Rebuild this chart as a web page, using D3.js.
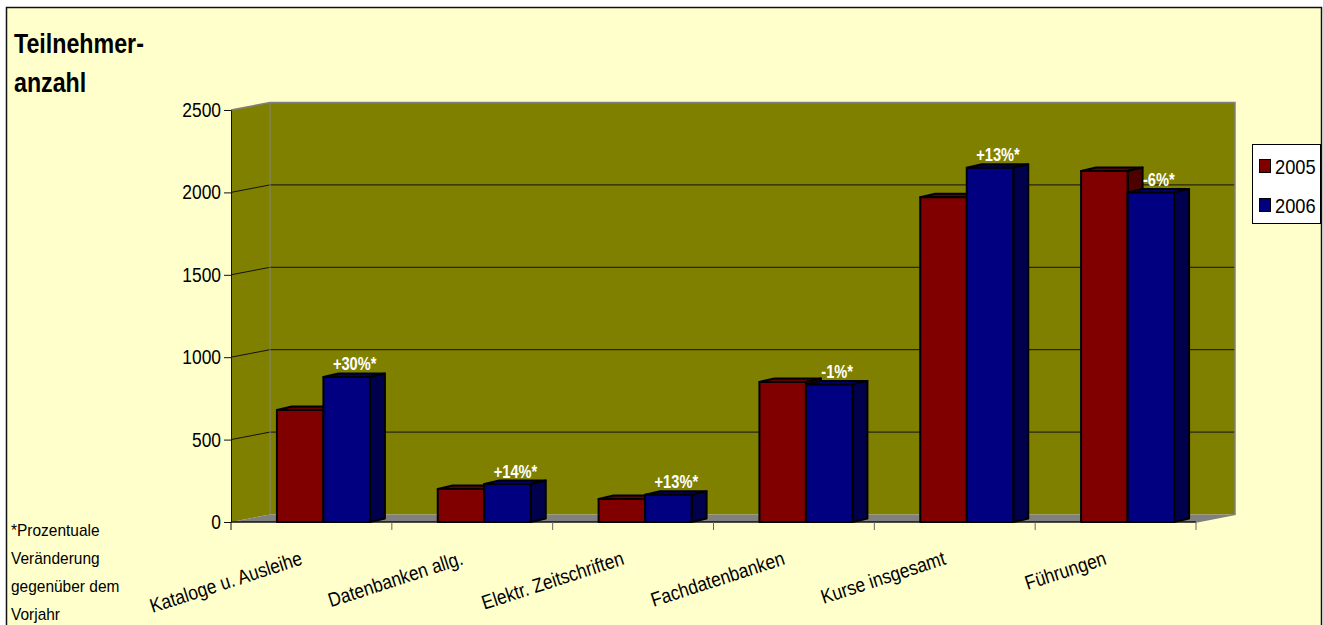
<!DOCTYPE html>
<html>
<head>
<meta charset="utf-8">
<style>
  html,body { margin:0; padding:0; background:#fff; overflow:hidden; }
  text { font-family: "Liberation Sans", Arial, sans-serif; }
</style>
<script src="https://cdn.jsdelivr.net/npm/d3@7"></script>
</head>
<body>
<div id="chart"></div>
<script>
const categories = ["Kataloge u. Ausleihe", "Datenbanken allg.", "Elektr. Zeitschriften", "Fachdatenbanken", "Kurse insgesamt", "Führungen"];
const years = ["2005", "2006"];
const values2005 = [680, 200, 140, 850, 1970, 2130];
const values2006 = [880, 230, 165, 835, 2150, 2000];
const changeLabels = ["+30%*", "+14%*", "+13%*", "-1%*", "+13%*", "-6%*"];
const yTicks = [0, 500, 1000, 1500, 2000, 2500];
const titleLines = ["Teilnehmer-", "anzahl"];
const noteLines = ["*Prozentuale", "Veränderung", "gegenüber dem", "Vorjahr"];

const width = 1323, height = 625;
// 3d offset of the back wall and of the bars
const wallDx = 39, wallDy = -7.5, barDx = 15, barDy = -3.5;

const svg = d3.select("#chart").append("svg")
  .attr("width", width).attr("height", height).style("display", "block");

svg.append("rect").attr("x", 6.5).attr("y", 7.5).attr("width", 1315).attr("height", 630)
  .attr("fill", "#ffffcc").attr("stroke", "#111").attr("stroke-width", 1.5);

const x = d3.scaleBand().domain(categories).range([231, 1196]);
const xBar = d3.scaleBand().domain(years).range([0, 93]);
const y = d3.scaleLinear().domain([0, 2500]).range([522, 110]);
const barLeft = c => x(c) + (x.bandwidth() - 93) / 2 + 12;

const poly = pts => "M" + pts.map(p => p.join(",")).join("L") + "Z";
const x0 = x.range()[0], x1 = x.range()[1];

// no narrow font here, so squeeze the glyphs to get the Arial Narrow look
const squeeze = (sel, k) => sel.each(function () {
  d3.select(this).attr("lengthAdjust", "spacingAndGlyphs").attr("textLength", this.getComputedTextLength() * k);
});

// walls and floor
svg.append("path").attr("fill", "#808000")
  .attr("d", poly([[x0, y(0)], [x0, y(2500)], [x0 + wallDx, y(2500) + wallDy], [x1 + wallDx, y(2500) + wallDy], [x1 + wallDx, y(0) + wallDy], [x0 + wallDx, y(0) + wallDy]]));
svg.append("path").attr("fill", "#808080")
  .attr("d", poly([[x0, y(0)], [x1, y(0)], [x1 + wallDx, y(0) + wallDy], [x0 + wallDx, y(0) + wallDy]]));

// grid lines, along side wall then back wall
const grid = svg.append("g").attr("fill", "none").attr("stroke", "#111").attr("stroke-width", 1);
yTicks.slice(1, -1).forEach(t => {
  grid.append("path").attr("d", d3.line()([[x0, y(t)], [x0 + wallDx, y(t) + wallDy], [x1 + wallDx, y(t) + wallDy]]));
});

// grey wall edges
svg.append("path").attr("fill", "none").attr("stroke", "#808080").attr("stroke-width", 1.5)
  .attr("d", d3.line()([[x0, y(2500)], [x0 + wallDx, y(2500) + wallDy], [x1 + wallDx, y(2500) + wallDy], [x1 + wallDx, y(0) + wallDy], [x1, y(0)]]));
svg.append("path").attr("fill", "none").attr("stroke", "#808080").attr("stroke-width", 1)
  .attr("d", d3.line()([[x0 + wallDx, y(2500) + wallDy], [x0 + wallDx, y(0) + wallDy]]));

// axes
const yAxis = svg.append("g").attr("transform", `translate(${x0},0)`)
  .call(d3.axisLeft(y).tickValues(yTicks).tickSize(7).tickSizeOuter(0).tickPadding(3).tickFormat(d3.format("d")));
yAxis.selectAll("text").attr("font-size", 20).attr("fill", "#000").call(squeeze, 0.87);
yAxis.selectAll("line,path").attr("stroke", "#111");

const xAxis = svg.append("g").attr("transform", `translate(0,${y(0)})`);
xAxis.append("path").attr("stroke", "#111").attr("stroke-width", 1.5).attr("d", d3.line()([[x0, 0], [x1, 0]]));
categories.concat([null]).forEach((c, i) => {
  const tx = c ? x(c) : x1;
  xAxis.append("line").attr("x1", tx).attr("x2", tx).attr("y1", 0).attr("y2", 8)
    .attr("stroke", i == 0 ? "#111" : "#666");
});

xAxis.selectAll("text.cat").data(categories).enter().append("text").attr("class", "cat")
  .attr("text-anchor", "end").attr("font-size", 20).attr("fill", "#000")
  .attr("transform", d => `translate(${x(d) + x.bandwidth() / 2 - 8},${42}) rotate(-18)`)
  .text(d => d)
  .call(squeeze, 0.87);

// bars
const series = [
  {year: "2005", values: values2005, front: "#800000", top: "#660000", side: "#4d0000"},
  {year: "2006", values: values2006, front: "#000080", top: "#000066", side: "#00004d"}
];
series.forEach(s => {
  const g = svg.append("g").attr("stroke", "#000").attr("stroke-width", 2).attr("stroke-linejoin", "round");
  categories.forEach((c, i) => {
    const l = barLeft(c) + xBar(s.year), r = l + xBar.bandwidth(), t = y(s.values[i]), b = y(0);
    g.append("path").attr("fill", s.top)
      .attr("d", poly([[l, t], [l + barDx, t + barDy], [r + barDx, t + barDy], [r, t]]));
    g.append("path").attr("fill", s.side)
      .attr("d", poly([[r, t], [r + barDx, t + barDy], [r + barDx, b + barDy], [r, b]]));
    g.append("rect").attr("x", l).attr("y", t).attr("width", r - l).attr("height", b - t).attr("fill", s.front);
  });
});

// change labels over the 2006 bars
svg.selectAll("text.change").data(categories).enter().append("text").attr("class", "change")
  .attr("x", c => barLeft(c) + xBar("2006") + xBar.bandwidth() / 2 + 8)
  .attr("y", (c, i) => y(values2006[i]) + barDy - 3)
  .attr("text-anchor", "middle").attr("font-size", 19).attr("font-weight", "bold").attr("fill", "#fff")
  .text((c, i) => changeLabels[i])
  .call(squeeze, 0.77);

// title and footnote
svg.selectAll("text.title").data(titleLines).enter().append("text").attr("class", "title")
  .attr("x", 14).attr("y", (d, i) => 53 + i * 39)
  .attr("font-size", 27).attr("font-weight", "bold").attr("fill", "#000").text(d => d)
  .call(squeeze, 0.86);

svg.selectAll("text.note").data(noteLines).enter().append("text").attr("class", "note")
  .attr("x", 11).attr("y", (d, i) => 535.5 + i * 28)
  .attr("font-size", 17).attr("fill", "#000").text(d => d)
  .call(squeeze, 0.91);

// legend
const legend = svg.append("g");
legend.append("rect").attr("x", 1252.5).attr("y", 144.5).attr("width", 68).attr("height", 79)
  .attr("fill", "#fff").attr("stroke", "#000");
years.forEach((yr, i) => {
  const ly = 166 + i * 39;
  legend.append("rect").attr("x", 1259.5).attr("y", ly - 6.5).attr("width", 11).attr("height", 13)
    .attr("fill", series[i].front).attr("stroke", "#000");
  legend.append("text").attr("x", 1275).attr("y", ly + 8).attr("font-size", 21).attr("fill", "#000").text(yr)
    .call(squeeze, 0.87);
});
</script>
</body>
</html>
